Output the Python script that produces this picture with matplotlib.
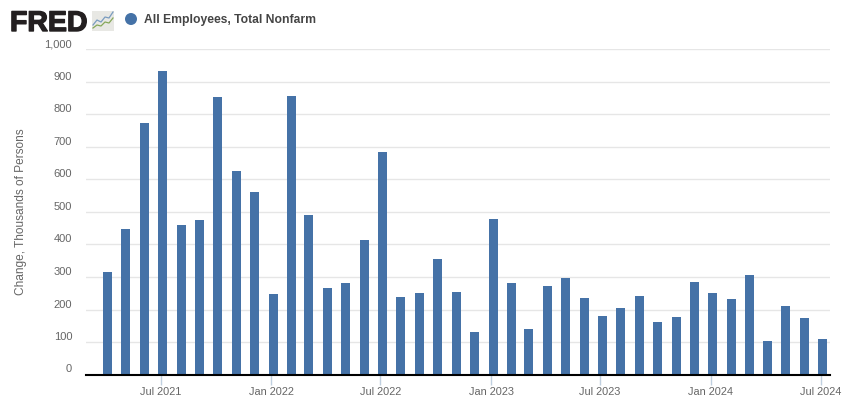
import matplotlib
matplotlib.use("Agg")
import matplotlib.pyplot as plt
import matplotlib.dates as mdates
import matplotlib.patheffects as pe
from matplotlib.patches import Circle, Rectangle
import pandas as pd

plt.rcParams['font.family'] = ['Liberation Sans', 'DejaVu Sans']

# monthly change, Apr 2021 - Jul 2024
months = pd.date_range("2021-04-01", "2024-07-01", freq="MS")
values = [315, 448, 774, 934, 460, 475, 854, 626, 561, 248,
          857, 491, 266, 282, 414, 685, 238, 251, 355, 254,
          131, 478, 282, 140, 272, 297, 235, 180, 205, 242,
          162, 177, 285, 251, 232, 306, 103, 211, 174, 109]

xtick_dates = ["2021-07-01", "2022-01-01", "2022-07-01", "2023-01-01",
               "2023-07-01", "2024-01-01", "2024-07-01"]
ytick_values = [0, 100, 200, 300, 400, 500, 600, 700, 800, 900, 1000]

# logo sparklines, pixel offsets inside the small icon
logo_blue_x = [93, 97, 101, 105, 109, 113]
logo_blue_y = [25, 20, 22, 17, 18, 12]
logo_green_x = [93, 97, 101, 105, 109, 113]
logo_green_y = [28, 25, 26, 22, 23, 18]

W, H = 850, 401
fig = plt.figure(figsize=(W / 100, H / 100), dpi=100)

# plot area in pixels
left, right, top, bottom = 86, 830, 49.5, 374.5
ax = fig.add_axes([left / W, 1 - bottom / H, (right - left) / W, (bottom - top) / H])

jul21 = mdates.date2num(pd.Timestamp("2021-07-01"))
jul24 = mdates.date2num(pd.Timestamp("2024-07-01"))
px_per_day = (820.5 - 160.5) / (jul24 - jul21)
ax.set_xlim(jul21 - (160.5 - left) / px_per_day, jul21 + (right - 160.5) / px_per_day)
ax.set_ylim(0, 1000)

# bars sit about 2px right of the tick
bar_x = mdates.date2num(months) + 2 / px_per_day
ax.bar(bar_x, values, width=9 / px_per_day, color="#4572a7", zorder=3)

ax.set_yticks(ytick_values)
ax.set_yticklabels([f"{v:,}" for v in ytick_values])
ax.set_xticks(mdates.date2num(pd.to_datetime(xtick_dates)))
ax.set_xticklabels([pd.Timestamp(d).strftime("%b %Y") for d in xtick_dates])
ax.grid(True, axis="y", color="#e6e6e6", lw=1)
ax.set_axisbelow(True)
ax.tick_params(axis="y", length=0, pad=10, labelsize=8, labelcolor="#666666")
ax.tick_params(axis="x", length=7, width=1, color="#c0d0e0", pad=2, labelsize=7.9, labelcolor="#666666")
for lab in ax.get_yticklabels():
    lab.set_verticalalignment("bottom")

for s in ["top", "right", "left"]:
    ax.spines[s].set_visible(False)
ax.spines["bottom"].set_color("black")
ax.spines["bottom"].set_linewidth(1.5)
ax.spines["bottom"].set_zorder(5)

fig.text(21 / W, 1 - 212 / H, "Change, Thousands of Persons", rotation=90,
         ha="center", va="center", fontsize=8.6, color="#666666")

# header drawn on a full figure overlay in pixel coordinates
ov = fig.add_axes([0, 0, 1, 1], facecolor="none")
ov.set_xlim(0, W)
ov.set_ylim(H, 0)
ov.axis("off")
ov.text(10, 31, "FRED", fontsize=20.5, fontweight="bold", color="#231f20", ha="left", va="baseline",
        path_effects=[pe.withStroke(linewidth=1, foreground="#231f20")])
ov.add_patch(Rectangle((92, 11), 22, 20, color="#e8e8e4", lw=0))
ov.plot(logo_blue_x, logo_blue_y, color="#7a9cc0", lw=0.9)
ov.plot(logo_green_x, logo_green_y, color="#86a85a", lw=0.9)
ov.add_patch(Circle((131, 19), 6, color="#4572a7", lw=0))
ov.text(144, 19.5, "All Employees, Total Nonfarm", fontsize=8.7, fontweight="bold",
        color="#444444", ha="left", va="center")

fig.savefig("out.png", dpi=100)
